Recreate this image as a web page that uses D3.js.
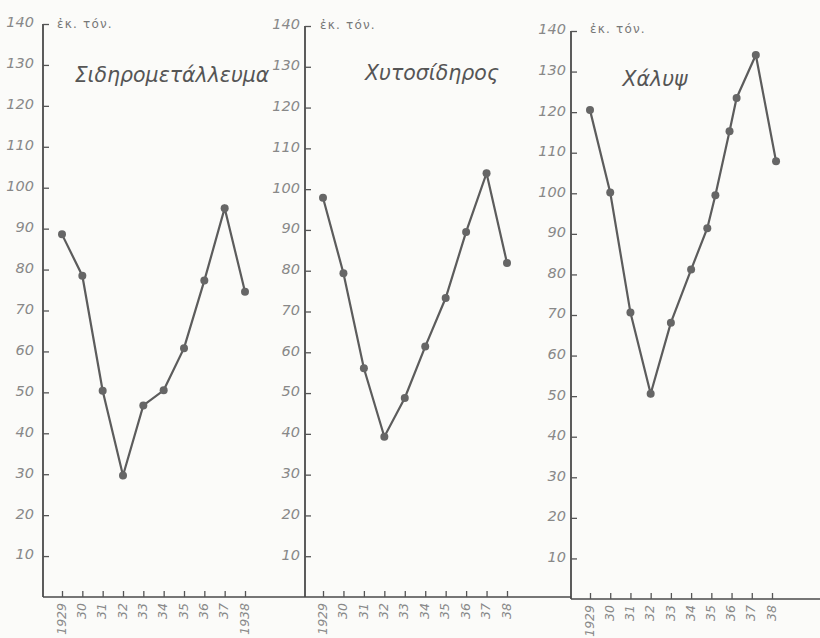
<!DOCTYPE html>
<html>
<head>
<meta charset="utf-8">
<script src="https://cdn.jsdelivr.net/npm/d3@7"></script>
<style>
  html, body { margin: 0; padding: 0; background: #fbfbf9; }
  svg { display: block; }
  .tick text { font-family: "DejaVu Sans", sans-serif; font-style: italic; fill: #888; }
</style>
</head>
<body>
<div id="chart"></div>
<script>
// values (millions of tons)
const years = [1929, 1930, 1931, 1932, 1933, 1934, 1935, 1936, 1937, 1938];
const ironOre = [88.6, 78.5, 50.4, 29.7, 46.8, 50.5, 60.8, 77.3, 95.0, 74.6];
const pigIron = [97.9, 79.4, 56.1, 39.3, 48.8, 61.4, 73.3, 89.5, 103.9, 81.9];
// steel panel has two extra dots drawn around 1935 and 1936
const steelYears = [1929, 1930, 1931, 1932, 1933, 1934, 1934.8, 1935.2, 1935.9, 1936.25, 1937.2, 1938.2];
const steel = [120.5, 100.2, 70.6, 50.6, 68.1, 81.2, 91.4, 99.5, 115.3, 123.5, 134.1, 107.9];

const yTicks = [10, 20, 30, 40, 50, 60, 70, 80, 90, 100, 110, 120, 130, 140];
const xLabels1 = ["1929", "30", "31", "32", "33", "34", "35", "36", "37", "1938"];
const xLabels2 = ["1929", "30", "31", "32", "33", "34", "35", "36", "37", "38"];
const titles = ["Σιδηρομετάλλευμα", "Χυτοσίδηρος", "Χάλυψ"];
const unitLabel = "ἐκ. τόν.";

const width = 820, height = 638;

const svg = d3.select("#chart").append("svg")
    .attr("width", width)
    .attr("height", height);

// layout of the three hand drawn panels
const panels = [
  { xs: years, ys: ironOre, labels: xLabels1, title: titles[0],
    axisX: 43, lineEnd: 305, y0: 597, yTop: 24, x0: 62, x1: 245, pad: 9, titleX: 172, titleY: 82, unitX: 57, unitY: 28 },
  { xs: years, ys: pigIron, labels: xLabels2, title: titles[1],
    axisX: 305, lineEnd: 571, y0: 597, yTop: 26, x0: 323, x1: 507, pad: 5, titleX: 432, titleY: 80, unitX: 320, unitY: 29 },
  { xs: steelYears, ys: steel, labels: xLabels2, title: titles[2],
    axisX: 571, lineEnd: 820, y0: 599, yTop: 31, x0: 590, x1: 772, pad: 5, titleX: 655, titleY: 86, unitX: 590, unitY: 33 }
];

panels.forEach(function(p) {
  var x = d3.scaleLinear().domain([1929, 1938]).range([p.x0, p.x1]);
  var y = d3.scaleLinear().domain([0, 140]).range([p.y0, p.yTop]);

  var g = svg.append("g");

  // baseline runs on to the next panel
  g.append("line")
    .attr("x1", p.axisX).attr("x2", p.lineEnd)
    .attr("y1", y(0)).attr("y2", y(0))
    .attr("stroke", "#4a4a4a")
    .attr("stroke-width", 1.6);

  // y axis, ticks point inward
  var yAxis = g.append("g")
    .attr("transform", "translate(" + p.axisX + ",0)")
    .call(d3.axisLeft(y).tickValues(yTicks).tickSize(-6).tickSizeOuter(0).tickPadding(p.pad));
  yAxis.select(".domain")
    .attr("d", "M0," + y(0) + "V" + y(140))
    .attr("stroke", "#4a4a4a").attr("stroke-width", 1.8);
  yAxis.selectAll(".tick line").attr("stroke", "#555").attr("stroke-width", 1.3);
  yAxis.selectAll(".tick text").style("font-size", "14.5px").attr("dy", "0.2em");

  // x axis, ticks point up, labels rotated
  var xAxis = g.append("g")
    .attr("transform", "translate(0," + y(0) + ")")
    .call(d3.axisBottom(x).tickValues(years).tickSize(-6).tickSizeOuter(0)
      .tickFormat(function(d, i) { return p.labels[i]; }));
  xAxis.select(".domain").remove();
  xAxis.selectAll(".tick line").attr("stroke", "#555").attr("stroke-width", 1.3);
  xAxis.selectAll(".tick text")
    .attr("transform", "rotate(-90)")
    .attr("text-anchor", "end")
    .attr("x", -6)
    .attr("y", 0)
    .attr("dy", "0.25em")
    .style("font-size", "12.5px");

  // unit label next to the top tick
  g.append("text")
    .attr("x", p.unitX)
    .attr("y", p.unitY)
    .text(unitLabel)
    .style("font-family", "DejaVu Sans, sans-serif")
    .style("font-size", "12px")
    .style("letter-spacing", "1.2px")
    .style("fill", "#777");

  // panel title
  g.append("text")
    .attr("x", p.titleX)
    .attr("y", p.titleY)
    .attr("text-anchor", "middle")
    .text(p.title)
    .style("font-family", "DejaVu Sans, sans-serif")
    .style("font-style", "italic")
    .style("font-weight", "300")
    .style("font-size", "20.5px")
    .style("fill", "#555");

  var pts = p.xs.map(function(d, i) { return [d, p.ys[i]]; });

  var line = d3.line()
    .x(function(d) { return x(d[0]); })
    .y(function(d) { return y(d[1]); });

  g.append("path")
    .datum(pts)
    .attr("d", line)
    .attr("fill", "none")
    .attr("stroke", "#5c5c5c")
    .attr("stroke-width", 2.2);

  g.selectAll("circle")
    .data(pts)
    .enter().append("circle")
      .attr("cx", function(d) { return x(d[0]); })
      .attr("cy", function(d) { return y(d[1]); })
      .attr("r", 4)
      .attr("fill", "#666");
});
</script>
</body>
</html>
